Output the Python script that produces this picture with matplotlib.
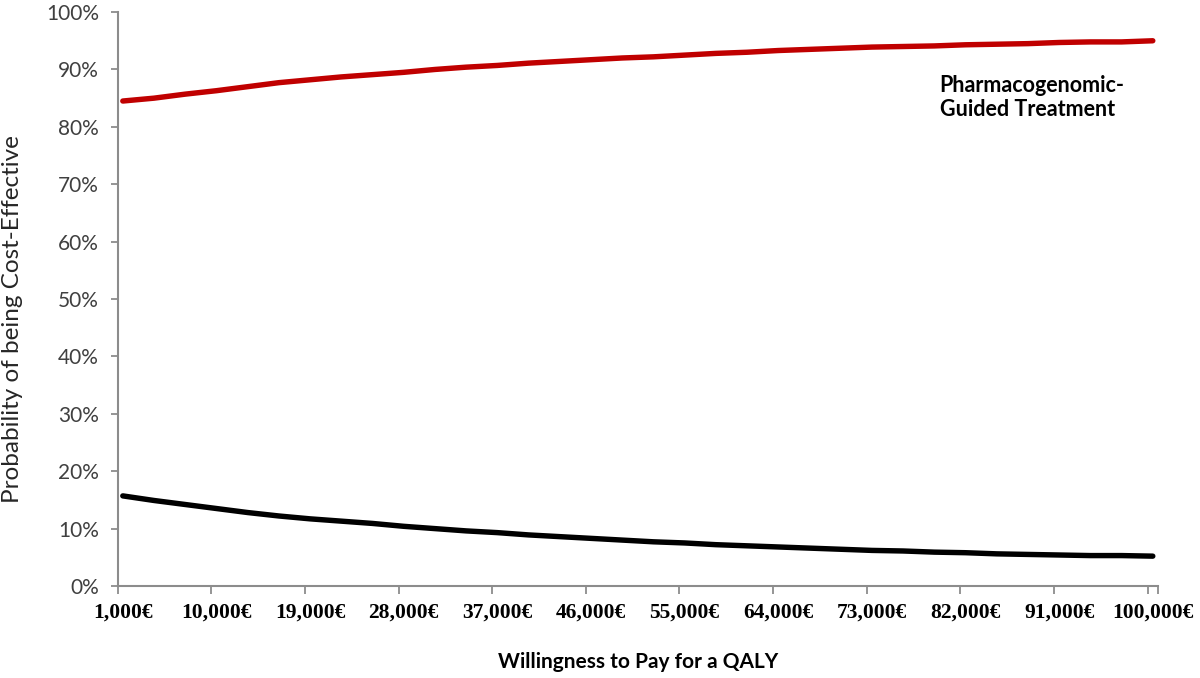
import numpy as np
import matplotlib
matplotlib.use('Agg')
import matplotlib.pyplot as plt
from matplotlib.ticker import FixedLocator

# willingness to pay (EUR per QALY), read every 3,000
wtp = [1000, 4000, 7000, 10000, 13000, 16000, 19000, 22000, 25000, 28000,
       31000, 34000, 37000, 40000, 43000, 46000, 49000, 52000, 55000, 58000,
       61000, 64000, 67000, 70000, 73000, 76000, 79000, 82000, 85000, 88000,
       91000, 94000, 97000, 100000]

# probability of being cost-effective (%)
pgx_guided = [84.5, 85.0, 85.7, 86.3, 87.0, 87.7, 88.2, 88.7, 89.1, 89.5,
              90.0, 90.4, 90.7, 91.1, 91.4, 91.7, 92.0, 92.2, 92.5, 92.8,
              93.0, 93.3, 93.5, 93.7, 93.9, 94.0, 94.1, 94.3, 94.4, 94.5,
              94.7, 94.8, 94.8, 95.0]
standard = [15.7, 14.9, 14.2, 13.5, 12.8, 12.2, 11.7, 11.3, 10.9, 10.4,
            10.0, 9.6, 9.3, 8.9, 8.6, 8.3, 8.0, 7.7, 7.5, 7.2,
            7.0, 6.8, 6.6, 6.4, 6.2, 6.1, 5.9, 5.8, 5.6, 5.5,
            5.4, 5.3, 5.3, 5.2]

tick_vals = list(range(1000, 100001, 9000))
tick_labels = ['{:,}€'.format(v) for v in tick_vals]
y_ticks = list(range(0, 101, 10))

sans = ['Lato', 'DejaVu Sans']
grey = '#8c8c8c'

fig = plt.figure(figsize=(12, 6.78), dpi=100)
ax = fig.add_axes([0.098, 0.1357, 0.867, 0.8465])

ax.plot(wtp, pgx_guided, color='#c00000', lw=3.9, solid_capstyle='round')
ax.plot(wtp, standard, color='#000000', lw=3.9, solid_capstyle='round')

# category-style axis: one slot per 1,000, ticks on slot edges
ax.set_xlim(500, 100500)
ax.set_ylim(0, 100)

ax.xaxis.set_major_locator(FixedLocator(tick_vals))
ax.set_xticklabels(tick_labels, family=['Liberation Serif', 'DejaVu Serif'],
                   fontweight='bold', fontsize=15.5, color='#000000')
ax.tick_params(axis='x', which='major', length=0, pad=12)
ax.xaxis.set_minor_locator(FixedLocator([v - 500 for v in tick_vals] + [100500]))
ax.tick_params(axis='x', which='minor', length=6, width=1.3, color=grey)

ax.set_yticks(y_ticks)
ax.set_yticklabels(['{}%'.format(v) for v in y_ticks], family=sans,
                   fontsize=15, color='#404040')
ax.tick_params(axis='y', length=5, width=1.3, color=grey, pad=8.5)

for s in ['top', 'right']:
    ax.spines[s].set_visible(False)
for s in ['left', 'bottom']:
    ax.spines[s].set_color(grey)
    ax.spines[s].set_linewidth(1.5)

ax.set_xlabel('Willingness to Pay for a QALY', family=sans, fontweight='bold',
              fontsize=15, labelpad=21)
ax.set_ylabel('Probability of being Cost-Effective', family=sans,
              fontsize=17.5, color='#262626')
ax.yaxis.set_label_coords(-0.091, 0.465)

ax.text(79500, 85.1, 'Pharmacogenomic-\nGuided Treatment', family=sans,
        fontweight='bold', fontsize=15.5, va='center', ha='left', linespacing=1.2)

fig.savefig('out.png', dpi=100)
